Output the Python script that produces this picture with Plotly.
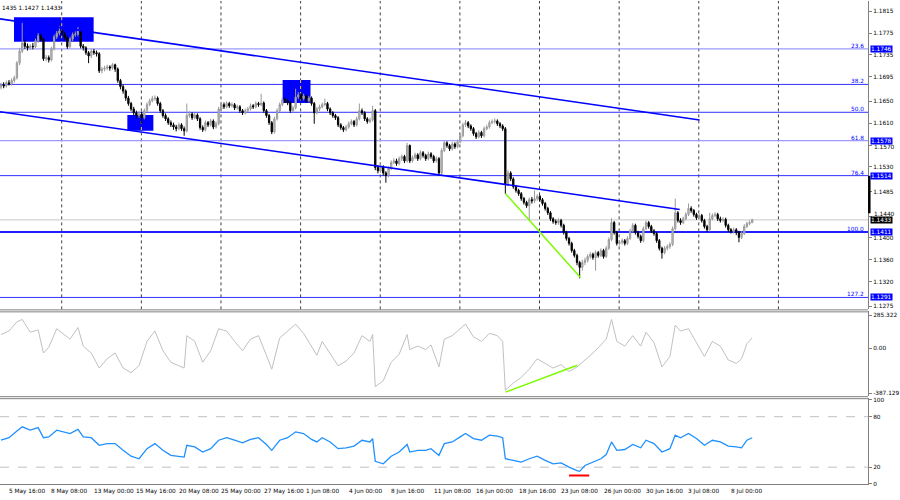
import plotly.graph_objects as go

# ---------------- DATA (prices in pips: price x 10000), H4 bars ----------------
open_first = 11676
close_p = [11680,11678,11684,11682,11688,11693,11720,11742,11757,11751,
           11748,11751,11750,11761,11770,11764,11728,11730,11726,11746,
           11768,11775,11779,11773,11766,11750,11764,11772,11773,11779,
           11751,11748,11739,11733,11742,11739,11737,11706,11709,11711,
           11713,11711,11717,11709,11688,11677,11669,11656,11646,11636,
           11629,11624,11627,11620,11633,11644,11651,11655,11656,11646,
           11633,11624,11618,11611,11607,11603,11600,11607,11600,11596,
           11624,11627,11620,11625,11618,11602,11598,11611,11607,11614,
           11603,11609,11636,11644,11640,11646,11642,11644,11638,11640,
           11633,11629,11633,11636,11642,11640,11646,11644,11647,11633,
           11624,11611,11594,11618,11633,11644,11653,11651,11647,11633,
           11638,11658,11662,11655,11660,11651,11656,11646,11629,11636,
           11640,11644,11646,11636,11629,11624,11620,11607,11602,11598,
           11603,11609,11613,11607,11618,11633,11629,11618,11613,11616,
           11633,11529,11523,11530,11519,11514,11527,11538,11541,11536,
           11545,11549,11541,11569,11541,11547,11552,11545,11556,11551,
           11545,11554,11549,11541,11545,11519,11560,11574,11569,11563,
           11572,11567,11576,11587,11607,11611,11605,11600,11591,11585,
           11593,11587,11600,11603,11611,11613,11614,11609,11605,11600,
           11499,11519,11508,11494,11487,11481,11472,11465,11459,11470,
           11468,11472,11476,11470,11463,11454,11446,11435,11430,11428,
           11432,11423,11410,11399,11390,11377,11368,11355,11346,11355,
           11359,11366,11370,11364,11373,11368,11377,11366,11381,11397,
           11428,11410,11390,11392,11395,11390,11399,11413,11423,11410,
           11403,11395,11417,11428,11421,11413,11408,11395,11381,11373,
           11381,11384,11388,11417,11446,11432,11428,11435,11443,11454,
           11450,11443,11437,11441,11432,11421,11415,11435,11441,11443,
           11435,11432,11434,11423,11415,11412,11415,11410,11401,11408,
           11421,11426,11428,11433]
high_p = [11684,11685,11688,11689,11692,11697,11724,11748,11797,11763,
          11756,11755,11757,11765,11775,11774,11767,11735,11734,11750,
          11772,11779,11788,11783,11777,11770,11768,11776,11778,11786,
          11781,11755,11751,11742,11746,11746,11743,11740,11713,11715,
          11717,11716,11720,11719,11712,11691,11681,11672,11660,11649,
          11640,11633,11632,11631,11637,11648,11655,11660,11661,11659,
          11649,11636,11628,11621,11615,11611,11607,11611,11610,11604,
          11646,11632,11630,11629,11628,11621,11606,11615,11614,11618,
          11617,11613,11640,11649,11648,11650,11649,11648,11647,11644,
          11643,11636,11637,11640,11646,11645,11650,11649,11664,11650,
          11636,11627,11614,11622,11637,11648,11658,11657,11655,11650,
          11642,11673,11667,11665,11664,11663,11660,11659,11649,11640,
          11644,11648,11655,11649,11639,11632,11627,11623,11610,11605,
          11607,11613,11617,11616,11622,11646,11637,11632,11621,11620,
          11642,11636,11533,11535,11533,11522,11531,11542,11546,11545,
          11549,11553,11552,11574,11571,11551,11556,11555,11560,11559,
          11554,11558,11557,11552,11549,11548,11564,11578,11577,11572,
          11576,11575,11580,11591,11611,11616,11614,11608,11603,11594,
          11597,11596,11604,11607,11615,11617,11619,11617,11612,11608,
          11603,11524,11522,11511,11497,11490,11484,11475,11468,11474,
          11475,11487,11480,11479,11473,11466,11457,11449,11438,11434,
          11436,11435,11426,11413,11402,11393,11380,11371,11358,11360,
          11364,11370,11374,11373,11377,11376,11381,11380,11385,11401,
          11436,11431,11413,11396,11399,11398,11403,11417,11427,11426,
          11413,11406,11421,11432,11431,11424,11416,11411,11398,11384,
          11385,11388,11392,11421,11472,11449,11436,11439,11447,11463,
          11458,11453,11446,11445,11444,11435,11424,11446,11445,11447,
          11446,11439,11438,11437,11426,11418,11419,11418,11413,11412,
          11425,11430,11432,11435]
low_p = [11672,11674,11675,11679,11679,11684,11690,11716,11738,11746,
         11743,11744,11745,11747,11757,11760,11724,11723,11721,11723,
         11743,11764,11771,11769,11762,11746,11747,11760,11768,11769,
         11747,11743,11735,11720,11729,11735,11732,11702,11701,11705,
         11707,11706,11708,11704,11684,11672,11664,11651,11642,11632,
         11624,11619,11620,11609,11617,11630,11641,11648,11651,11642,
         11629,11620,11614,11607,11603,11598,11595,11597,11596,11587,
         11593,11620,11616,11617,11614,11598,11594,11595,11603,11604,
         11599,11600,11606,11633,11636,11637,11638,11639,11634,11635,
         11629,11625,11626,11630,11633,11636,11637,11640,11641,11629,
         11620,11607,11590,11591,11615,11630,11641,11647,11643,11629,
         11630,11635,11654,11651,11652,11647,11648,11642,11609,11626,
         11632,11637,11641,11632,11625,11620,11616,11603,11598,11594,
         11595,11600,11606,11603,11604,11615,11625,11614,11609,11610,
         11613,11524,11518,11519,11514,11501,11511,11524,11535,11532,
         11533,11541,11537,11538,11537,11538,11544,11541,11542,11547,
         11541,11542,11545,11537,11538,11514,11516,11557,11565,11559,
         11560,11563,11564,11573,11584,11603,11601,11596,11587,11581,
         11582,11583,11584,11597,11600,11608,11609,11605,11601,11596,
         11481,11495,11504,11490,11483,11477,11468,11461,11455,11432,
         11463,11464,11468,11466,11459,11450,11442,11431,11426,11424,
         11424,11419,11406,11395,11386,11373,11364,11350,11326,11340,
         11350,11355,11362,11360,11340,11364,11365,11362,11363,11378,
         11394,11406,11386,11386,11388,11386,11387,11396,11410,11406,
         11399,11391,11392,11414,11417,11409,11404,11391,11377,11362,
         11370,11377,11380,11385,11414,11428,11424,11425,11432,11440,
         11446,11439,11433,11434,11428,11417,11411,11412,11432,11438,
         11431,11428,11429,11419,11411,11408,11408,11405,11392,11398,
         11405,11418,11423,11427]

# CCI read from its window: (bar index, value)
cci_bars = [0,3,6,8,11,14,16,18,21,24,26,29,31,34,37,40,43,46,49,52,55,58,61,64,67,69,
            70,73,76,79,82,85,88,91,94,97,100,102,105,108,111,114,117,119,121,124,127,
            130,133,136,139,140,141,144,147,150,153,154,157,160,162,165,167,170,173,175,
            178,181,184,187,189,190,193,196,199,202,205,208,211,214,217,220,223,226,228,
            230,232,235,238,241,243,246,249,252,254,256,259,262,265,268,271,274,277,279,
            281,283]
cci_vals = [120,150,230,250,140,160,-40,10,170,120,80,180,20,-40,-170,-90,-40,-170,-210,
            -150,60,150,-20,-120,-150,-170,110,60,-120,-20,170,150,60,-20,80,110,-60,-180,
            90,150,210,130,20,-60,60,-40,-150,-110,-40,110,60,120,-330,-280,-120,-50,120,
            -10,20,-10,30,-160,80,110,170,210,100,60,130,110,60,-360,-300,-250,-180,-90,
            -130,-170,-140,-200,-160,-100,-40,30,80,250,60,20,110,20,140,50,-160,-70,200,
            150,170,50,-70,60,20,-100,-130,-90,40,90]
# RSI read from its window: (bar index, value)
rsi_bars = [0,3,6,8,11,14,16,18,21,24,26,29,31,34,37,40,43,46,49,52,55,58,61,64,67,69,
            70,73,76,79,82,85,88,91,94,97,100,102,105,108,111,114,117,119,121,124,127,
            130,133,136,139,140,141,144,147,150,153,154,157,160,162,165,167,170,173,175,
            178,181,184,187,189,190,193,196,199,202,205,208,211,214,217,218,220,223,226,
            228,230,232,235,238,241,243,246,249,252,254,256,259,262,265,268,271,274,277,
            279,281,283]
rsi_vals = [52,55,63,68,64,67,55,56,64,62,60,65,56,55,46,48,48,40,33,30,42,48,40,34,33,
            32,46,44,38,42,52,55,52,49,53,55,47,40,52,55,62,60,53,50,55,50,42,43,45,52,
            50,54,27,24,33,38,47,38,40,40,42,34,48,50,56,60,54,52,58,57,55,30,28,26,30,
            33,28,24,25,20,16,15,22,26,30,35,50,40,41,47,43,52,48,38,42,58,55,60,54,46,
            52,50,45,44,43,52,55]

time_labels = ["5 May 16:00","8 May 08:00","13 May 00:00","15 May 16:00","20 May 08:00",
               "25 May 00:00","27 May 16:00","1 Jun 08:00","4 Jun 00:00","8 Jun 16:00",
               "11 Jun 08:00","16 Jun 00:00","18 Jun 16:00","23 Jun 08:00","26 Jun 00:00",
               "30 Jun 16:00","3 Jul 08:00","8 Jul 00:00"]
time_label_bars = [3,19,35,51,67,83,99,115,131,147,163,179,195,211,227,243,259,275]

price_ticks = [1.1815,1.1775,1.1735,1.1695,1.1650,1.1610,1.1570,1.1530,1.1485,
               1.1440,1.1400,1.1360,1.1320,1.1275]
# tick labels partly hidden behind the price tags: (value, vertical shift in px)
shifted_ticks = {1.1570: -2, 1.1440: 2}

fib_levels = ["23.6","38.2","50.0","61.8","76.4","100.0","127.2"]
fib_prices = [1.1746,1.1681,1.1630,1.1578,1.1514,1.1411,1.1291]
fib_tagged = [True,False,False,True,True,True,True]
last_price = 1.1433
header_text = "1435 1.1427 1.1433"

# drawings: (bar, price)
chan_upper = [(-0.4,1.1801),(263.2,1.1616)]
chan_lower = [(-0.4,1.1631),(255.7,1.1452)]
boxes = [((4.9,1.1804),(34.9,1.1759)),((47.6,1.1625),(57.4,1.1596)),((106.1,1.1689),(116.6,1.1647))]
green_price = [(190.1,1.1481),(218.2,1.1328)]
green_cci = [(190.1,-378),(217.1,-146)]
red_rsi = [(214.0,10),(221.6,10)]
axis_marker = (1.1514, 1.1445)

# ---------------- FIGURE ----------------
closes = [c/10000 for c in close_p]
highs = [h/10000 for h in high_p]
lows = [l/10000 for l in low_p]
opens = [open_first/10000] + closes[:-1]
bars = list(range(len(closes)))

PX = 8/3.0          # pixels per bar
W = 872.0           # plot width in px
xmin = -1/PX
xmax = xmin + W/PX
FONT = "DejaVu Sans"
FS = 5.8

fig = go.Figure()
fig.add_trace(go.Candlestick(
    x=bars, open=opens, high=highs, low=lows, close=closes,
    increasing=dict(line=dict(color="#9a9a9a", width=1), fillcolor="#c4c4c4"),
    decreasing=dict(line=dict(color="#000000", width=1), fillcolor="#000000"),
    whiskerwidth=0, xaxis="x", yaxis="y", showlegend=False, hoverinfo="skip"))
fig.add_trace(go.Scatter(x=cci_bars, y=cci_vals, mode="lines",
                         line=dict(color="#c0c0c0", width=1), xaxis="x", yaxis="y2",
                         showlegend=False, hoverinfo="skip"))
fig.add_trace(go.Scatter(x=rsi_bars, y=rsi_vals, mode="lines",
                         line=dict(color="#1e90ff", width=1.3), xaxis="x", yaxis="y3",
                         showlegend=False, hoverinfo="skip"))

H = 485.0
def pdom(top_px, bot_px):
    return [(H-bot_px)/H, (H-top_px)/H]

axfont = dict(family=FONT, size=FS, color="black")
common = dict(side="right", ticks="outside", ticklen=3, tickcolor="#808080", showline=True,
              linecolor="#808080", showgrid=False, zeroline=False, tickfont=axfont)
fig.update_layout(
    width=900, height=500, margin=dict(l=0, r=28, t=0, b=15),
    paper_bgcolor="white", plot_bgcolor="white", showlegend=False,
    xaxis=dict(range=[xmin, xmax], showticklabels=False, showgrid=False, zeroline=False,
               rangeslider=dict(visible=False), showline=False, fixedrange=True),
    yaxis=dict(domain=pdom(0, 309), range=[1.12692, 1.18337], tickvals=price_ticks,
               ticktext=["" if v in shifted_ticks else "%.4f" % v for v in price_ticks], **common),
    yaxis2=dict(domain=pdom(311, 396), range=[-413, 320], anchor="x",
                tickvals=[285.322, 0, -387.129], ticktext=["285.322", "0.00", "-387.129"], **common),
    yaxis3=dict(domain=pdom(398, 485), range=[-1.2, 102], anchor="x",
                tickvals=[0, 20, 80, 100], ticktext=["0", "20", "80", "100"], **common),
)

shapes = []
for ypx in [309.5, 311.5, 396.5, 398.5, 484.5]:
    shapes.append(dict(type="line", xref="paper", yref="paper", x0=0, x1=1,
                       y0=(H-ypx)/H, y1=(H-ypx)/H, line=dict(color="#808080", width=1)))
grid_px = [62 + 80*k for k in range(10)]
for g in grid_px:
    xp = g/W
    shapes.append(dict(type="line", xref="paper", yref="paper", x0=xp, x1=xp,
                       y0=(H-309)/H, y1=1, line=dict(color="#404040", width=1, dash="dot"),
                       layer="below"))
for lv in [20, 80]:
    shapes.append(dict(type="line", xref="paper", yref="y3", x0=0, x1=1, y0=lv, y1=lv,
                       line=dict(color="#c0c0c0", width=1, dash="dash"), layer="below"))
shapes.append(dict(type="line", xref="paper", yref="y", x0=0, x1=1, y0=last_price, y1=last_price,
                   line=dict(color="#c8c8c8", width=1), layer="below"))
fib_colors = ["#9a9aff", "#3030ff", "#3030ff", "#9a9aff", "#3030ff", "#1f1fff", "#3030ff"]
fib_widths = [1.3, 1, 1, 1.3, 1, 2, 1]
for p, c, w in zip(fib_prices, fib_colors, fib_widths):
    shapes.append(dict(type="line", xref="paper", yref="y", x0=0, x1=1, y0=p, y1=p,
                       line=dict(color=c, width=w), layer="below"))
for (x0, y0), (x1, y1) in boxes:
    shapes.append(dict(type="rect", xref="x", yref="y", x0=x0, x1=x1, y0=y0, y1=y1,
                       fillcolor="#0000ff", line=dict(width=0), layer="below"))
    # grid lines show through the filled boxes in inverted (yellow) colour
    for g in grid_px:
        gb = (g - 1)/PX
        if x0 < gb < x1:
            shapes.append(dict(type="line", xref="x", yref="y", x0=gb, x1=gb, y0=y0, y1=y1,
                               line=dict(color="#ffd700", width=1, dash="dot"), layer="below"))
for (x0, y0), (x1, y1) in [chan_upper, chan_lower]:
    shapes.append(dict(type="line", xref="x", yref="y", x0=x0, x1=x1, y0=y0, y1=y1,
                       line=dict(color="#0000ff", width=1.6)))
(x0, y0), (x1, y1) = green_price
shapes.append(dict(type="line", xref="x", yref="y", x0=x0, x1=x1, y0=y0, y1=y1,
                   line=dict(color="#7cfc00", width=1.5)))
(x0, y0), (x1, y1) = green_cci
shapes.append(dict(type="line", xref="x", yref="y2", x0=x0, x1=x1, y0=y0, y1=y1,
                   line=dict(color="#7cfc00", width=1.5)))
(x0, y0), (x1, y1) = red_rsi
shapes.append(dict(type="line", xref="x", yref="y3", x0=x0, x1=x1, y0=y0, y1=y1,
                   line=dict(color="#ff0000", width=2)))
shapes.append(dict(type="line", xref="paper", yref="y", x0=1.0015, x1=1.0015,
                   y0=axis_marker[0], y1=axis_marker[1], line=dict(color="#000000", width=2.5)))
fig.update_layout(shapes=shapes)

ann = []
ann.append(dict(text=header_text, xref="paper", yref="paper", x=0, y=1 - 7/H,
                xanchor="left", yanchor="middle", showarrow=False,
                font=dict(family=FONT, size=FS, color="black")))
for b, t in zip(time_label_bars, time_labels):
    ann.append(dict(text=t, xref="x", yref="paper", x=b, y=(H-492)/H, xanchor="left",
                    yanchor="middle", showarrow=False, xshift=-2,
                    font=dict(family=FONT, size=FS, color="black")))
for v, dy in shifted_ticks.items():
    ann.append(dict(text="%.4f" % v, xref="paper", yref="y", x=876/W, y=v, xanchor="left",
                    yanchor="middle", showarrow=False, yshift=dy,
                    font=dict(family=FONT, size=FS, color="black")))
for lvl, p, tag in zip(fib_levels, fib_prices, fib_tagged):
    ann.append(dict(text=lvl, xref="paper", yref="y", x=870/W, y=p, xanchor="right",
                    yanchor="bottom", showarrow=False, yshift=-2,
                    font=dict(family=FONT, size=FS, color="#0000ff")))
    if tag:
        ann.append(dict(text="%.4f" % p, xref="paper", yref="y", x=874/W, y=p,
                        xanchor="left", yanchor="middle", showarrow=False,
                        bgcolor="#0000ff", borderpad=0,
                        font=dict(family=FONT, size=FS, color="white")))
ann.append(dict(text="%.4f" % last_price, xref="paper", yref="y", x=874/W, y=last_price,
                xanchor="left", yanchor="middle", showarrow=False, bgcolor="#000000",
                borderpad=0, font=dict(family=FONT, size=FS, color="white")))
fig.update_layout(annotations=ann)

fig.write_html("out.html")
